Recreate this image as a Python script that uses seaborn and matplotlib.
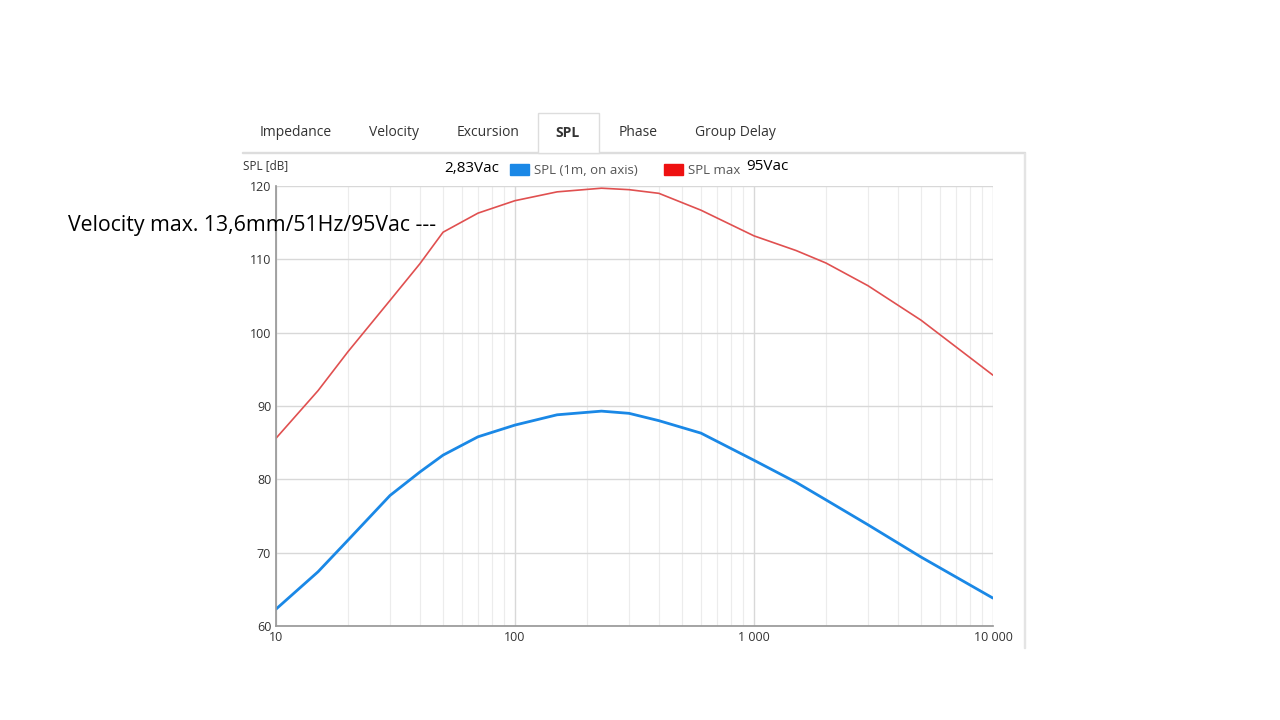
import numpy as np
import matplotlib.pyplot as plt
import seaborn as sns
from matplotlib.patches import Rectangle
from matplotlib.ticker import FixedLocator, NullFormatter

freq = [10, 15, 20, 30, 40, 50, 70, 100, 150, 230, 300, 400, 600, 1000, 1500, 2000, 3000, 5000, 10000]
spl_283 = [62.3, 67.4, 71.7, 77.8, 81.0, 83.3, 85.8, 87.4, 88.8, 89.3, 89.0, 88.0, 86.3, 82.6, 79.6, 77.2, 73.8, 69.4, 63.8]
spl_max = [85.6, 92.1, 97.4, 104.4, 109.4, 113.7, 116.3, 118.0, 119.2, 119.7, 119.5, 119.0, 116.7, 113.2, 111.2, 109.5, 106.4, 101.7, 94.2]

tabs = ["Impedance", "Velocity", "Excursion", "SPL", "Phase", "Group Delay"]
tab_x = [296, 394, 488, 568, 638, 735]

sns.set_theme(style="white")
plt.rcParams['font.family'] = ['Open Sans', 'DejaVu Sans']

fig = plt.figure(figsize=(12.8, 7.2), dpi=100)
W, H = 1280, 720
ax = fig.add_axes([276 / W, 1 - 626 / H, (993 - 276) / W, (626 - 186) / H])

sns.lineplot(x=freq, y=spl_283, ax=ax, color="#1a88e6", linewidth=2)
sns.lineplot(x=freq, y=spl_max, ax=ax, color="#e05050", linewidth=1.2)

ax.set_xscale("log")
ax.set_xlim(10, 10000)
ax.set_ylim(60, 120)
ax.set_yticks(range(60, 121, 10))
ax.set_xticks([10, 100, 1000, 10000])
ax.set_xticklabels(["10", "100", "1 000", "10 000"])
minors = [m * d for d in (10, 100, 1000) for m in range(2, 10)]
ax.xaxis.set_minor_locator(FixedLocator(minors))
ax.xaxis.set_minor_formatter(NullFormatter())
ax.grid(True, which="major", color="#d8d8d8", linewidth=1)
ax.grid(True, which="minor", axis="x", color="#ececec", linewidth=0.8)
for s in ["top", "right"]:
    ax.spines[s].set_visible(False)
ax.spines["left"].set_color("#999999")
ax.spines["bottom"].set_color("#999999")
ax.tick_params(labelsize=9, colors="#333333", length=0)

# tabs bar
fig.patches.append(Rectangle((242 / W, 1 - 153 / H), (1025 - 242) / W, 1 / H,
                             transform=fig.transFigure, color="#dddddd"))
fig.patches.append(Rectangle((1024 / W, 1 - 648 / H), 1 / W, (648 - 153) / H,
                             transform=fig.transFigure, color="#e4e4e4"))
fig.patches.append(Rectangle((538 / W, 1 - 153 / H), 61 / W, 40 / H, transform=fig.transFigure,
                             facecolor="white", edgecolor="#dddddd", linewidth=1, zorder=3))
for t, x in zip(tabs, tab_x):
    fig.text(x / W, 1 - 133 / H, t, ha="center", va="center", fontsize=10,
             fontweight="bold" if t == "SPL" else "normal", color="#333333", zorder=4)

fig.text(243 / W, 1 - 166 / H, "SPL [dB]", fontsize=8.5, va="center", color="#333333")
fig.text(444 / W, 1 - 168 / H, "2,83Vac", fontsize=11, va="center", color="black")
fig.patches.append(Rectangle((510 / W, 1 - 175 / H), 19 / W, 11 / H, transform=fig.transFigure,
                             color="#1a88e6"))
fig.text(534 / W, 1 - 170 / H, "SPL (1m, on axis)", fontsize=9.5, va="center", color="#555555")
fig.patches.append(Rectangle((664 / W, 1 - 175 / H), 19 / W, 11 / H, transform=fig.transFigure,
                             color="#ee1111"))
fig.text(688 / W, 1 - 170 / H, "SPL max", fontsize=9.5, va="center", color="#555555")
fig.text(746 / W, 1 - 167 / H, "95Vac", fontsize=11, va="center", color="black")
fig.text(68 / W, 1 - 226 / H, "Velocity max. 13,6mm/51Hz/95Vac ---", fontsize=15.3,
         va="center", color="black")

fig.savefig("out.png", dpi=100)
